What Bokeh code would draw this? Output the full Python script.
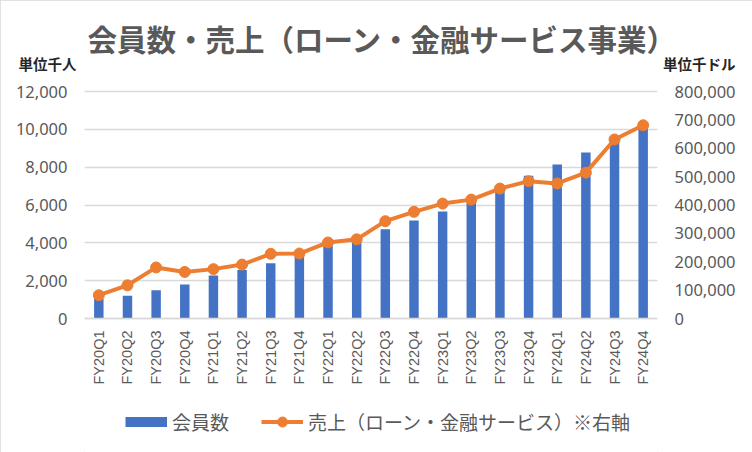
from bokeh.plotting import figure
from bokeh.models import (Range1d, FactorRange, LinearAxis, FixedTicker,
                          NumeralTickFormatter, Title, Legend, LegendItem, ColumnDataSource)
from bokeh.embed import file_html
from bokeh.resources import INLINE
import math

categories = ["FY20Q1", "FY20Q2", "FY20Q3", "FY20Q4",
              "FY21Q1", "FY21Q2", "FY21Q3", "FY21Q4",
              "FY22Q1", "FY22Q2", "FY22Q3", "FY22Q4",
              "FY23Q1", "FY23Q2", "FY23Q3", "FY23Q4",
              "FY24Q1", "FY24Q2", "FY24Q3", "FY24Q4"]
members = [1050, 1200, 1500, 1800, 2270, 2570, 2920, 3350, 3850, 4030,
           4720, 5180, 5660, 6240, 6850, 7550, 8140, 8770, 9450, 10050]
sales = [82000, 117000, 180000, 164000, 174000, 190000, 228000, 229000, 268000, 279000,
         343000, 376000, 405000, 419000, 458000, 484000, 476000, 514000, 631000, 681000]
left_ticks = [0, 2000, 4000, 6000, 8000, 10000, 12000]
right_ticks = [0, 100000, 200000, 300000, 400000, 500000, 600000, 700000, 800000]

title_text = "会員数・売上（ローン・金融サービス事業）"
left_unit = "単位千人"
right_unit = "単位千ドル"
bar_name = "会員数"
line_name = "売上（ローン・金融サービス）※右軸"

JP = "Noto Sans CJK JP"
NUM = "Noto Sans"
GRAY = "#595959"
GRID = "#d9d9d9"
BLUE = "#4472c4"
ORANGE = "#ed7d31"

# layout (page pixels): value axis 0 at y=318, top tick at y=91; the drawing area
# reaches from y=63 (unit captions) to the bottom of the canvas (legend inside it)
W, H = 752, 452
Y0_PX, YTOP_PX, FRAME_TOP = 318, 91, 63
LMAX, RMAX = left_ticks[-1], right_ticks[-1]
per_px = LMAX / (Y0_PX - YTOP_PX)
lo = -(H - Y0_PX) * per_px
hi = LMAX + (YTOP_PX - FRAME_TOP) * per_px

src = ColumnDataSource(dict(cat=categories, members=members, sales=sales))

p = figure(width=W, height=H, output_backend="svg", toolbar_location=None,
           x_range=FactorRange(*categories, range_padding=0),
           y_range=Range1d(lo, hi),
           min_border_left=84, min_border_right=95, min_border_top=FRAME_TOP,
           min_border_bottom=0)
p.outline_line_color = None
p.styles = {"outline": "2px solid #d9d9d9", "outline-offset": "-2px"}
p.extra_y_ranges = {"sales": Range1d(lo * RMAX / LMAX, hi * RMAX / LMAX)}

bars = p.vbar(x="cat", top="members", width=0.33, source=src, fill_color=BLUE, line_color=None)
ln = p.line(x="cat", y="sales", source=src, y_range_name="sales", line_color=ORANGE,
            line_width=4, line_join="round")
pts = p.scatter(x="cat", y="sales", source=src, y_range_name="sales", size=11,
                fill_color=ORANGE, line_color=ORANGE)
# legend swatch for the bars (flat wide band, as in the original legend); not drawn in the plot
bar_key = p.line(x="cat", y="members", source=src, line_color=BLUE, line_width=10,
                 line_cap="butt", visible=False)

ya = p.yaxis[0]
ya.ticker = FixedTicker(ticks=left_ticks)
ya.formatter = NumeralTickFormatter(format="0,0")
ya.axis_line_color = None
ya.major_tick_line_color = None
ya.minor_tick_line_color = None
ya.major_label_standoff = 11
ya.major_label_text_font = NUM
ya.major_label_text_font_size = "16.5px"
ya.major_label_text_color = GRAY

ra = LinearAxis(y_range_name="sales", ticker=FixedTicker(ticks=right_ticks),
                formatter=NumeralTickFormatter(format="0,0"))
ra.axis_line_color = None
ra.major_tick_line_color = None
ra.minor_tick_line_color = None
ra.major_label_standoff = 11
ra.major_label_text_font = NUM
ra.major_label_text_font_size = "16.5px"
ra.major_label_text_color = GRAY
p.add_layout(ra, "right")

xa = p.xaxis[0]
xa.fixed_location = 0
xa.axis_line_color = GRID
xa.axis_line_width = 1.3
xa.major_tick_line_color = None
xa.minor_tick_line_color = None
xa.major_label_orientation = math.pi / 2
xa.major_label_standoff = 6
xa.major_label_text_font = "Liberation Sans"
xa.major_label_text_font_size = "14.5px"
xa.major_label_text_color = GRAY

p.xgrid.grid_line_color = None
p.ygrid.grid_line_color = GRID
p.ygrid.grid_line_width = 1.3

# ---- captions above the drawing area ----
UH = 21.0   # text-box height of the 14.5px unit captions (zero-height panels)
p.add_layout(Title(text=left_unit, text_font=JP, text_font_style="bold",
                   text_font_size="14.5px", text_color="#262626",
                   align="left", offset=-66, vertical_align="middle",
                   standoff=-(2 + UH)), "above")
p.add_layout(Title(text=right_unit, text_font=JP, text_font_style="bold",
                   text_font_size="14.5px", text_color="#262626",
                   align="right", offset=-78, vertical_align="middle",
                   standoff=-(2 + UH)), "above")

TH = 42.7   # text-box height of the 29.5px main title
p.title.text = title_text
p.title.text_font = JP
p.title.text_font_style = "bold"
p.title.text_font_size = "29.5px"
p.title.text_color = GRAY
p.title.align = "left"
p.title.offset = 3
p.title.vertical_align = "middle"
p.title.standoff = 52 - 2 - TH

legend = Legend(items=[LegendItem(label=bar_name, renderers=[bar_key]),
                       LegendItem(label=line_name, renderers=[ln, pts])],
                orientation="horizontal", location=(41, 17),
                glyph_width=42, glyph_height=25, label_height=10,
                label_standoff=5, spacing=32, inactive_fill_alpha=0,
                padding=0, margin=0, border_line_color=None, background_fill_alpha=0,
                label_text_font=JP, label_text_font_size="19px", label_text_color=GRAY)
p.add_layout(legend, "center")

open("out.html", "w").write(file_html(p, INLINE))
